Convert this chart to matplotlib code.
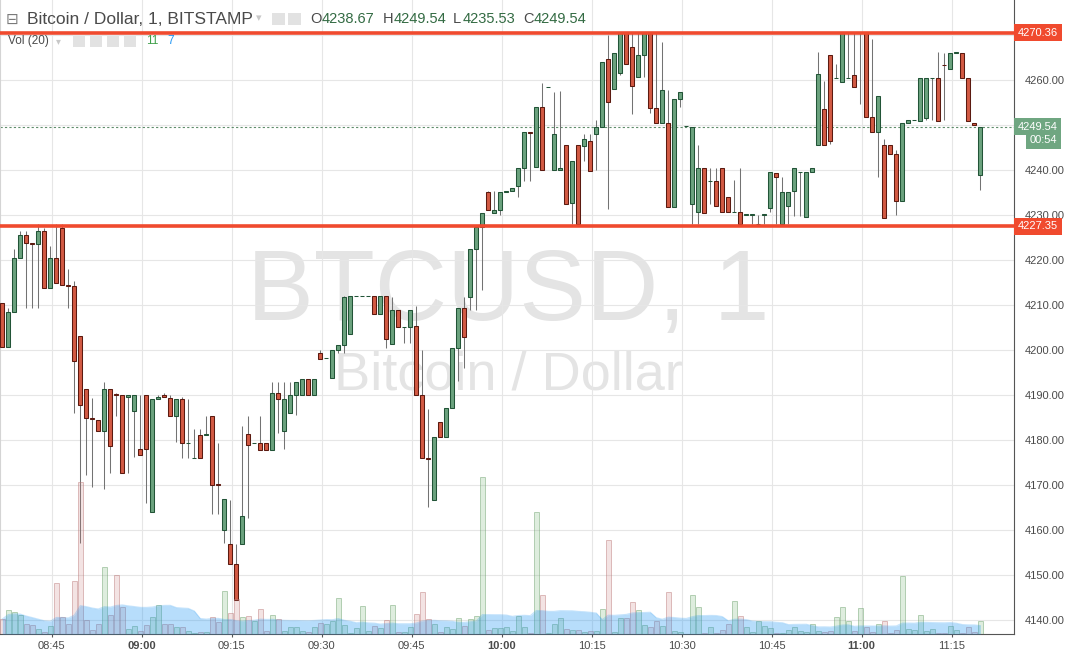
import numpy as np
import pandas as pd
import matplotlib
matplotlib.use("Agg")
import matplotlib.pyplot as plt
from matplotlib.patches import Rectangle
from matplotlib import transforms

# ---- datos (velas de 1 minuto desde las 08:37) ----
opens = [4210.3, 4200.5, 4208.3, 4220.3, 4225.4, 4223.6, 4223.4, 4226.3, 4213.6, 4220.3,
         4226.9, 4214.3, 4214.1, 4202.9, 4191.2, 4184.7, 4184.4, 4182.0, 4191.2, 4190.1,
         4189.8, 4189.5, 4186.3, 4178.0, 4189.8, 4164.0, 4188.9, 4189.8, 4189.2, 4185.2,
         4188.9, 4179.2, 4175.8, 4180.9, 4181.0, 4185.2, 4170.1, 4160.0, 4156.7, 4152.3,
         4156.7, 4181.2, 4179.2, 4179.2, 4179.2, 4177.6, 4190.3, 4182.0, 4186.0, 4189.8,
         4189.8, 4193.5, 4190.0, 4199.2, 4198.1, 4193.6, 4200.0, 4200.9, 4203.5, 4211.8,
         4211.8, 4211.8, 4211.8, 4207.8, 4211.8, 4201.2, 4208.7, 4204.9, 4204.9, 4205.2,
         4189.8, 4175.8, 4166.5, 4184.0, 4180.5, 4186.9, 4200.3, 4209.2, 4211.6, 4222.3,
         4227.2, 4234.9, 4230.3, 4230.9, 4235.1, 4235.2, 4236.3, 4240.3, 4248.3, 4240.5,
         4254.0, 4258.3, 4239.8, 4239.8, 4245.4, 4232.5, 4245.4, 4245.2, 4246.3, 4248.0,
         4249.4, 4264.5, 4257.8, 4261.4, 4270.3, 4267.2, 4260.5, 4265.4, 4270.3, 4253.6,
         4250.3, 4250.3, 4231.6, 4255.6, 4249.6, 4232.3, 4230.5, 4240.3, 4237.4, 4237.4,
         4240.3, 4234.0, 4230.5, 4230.5, 4229.9, 4229.9, 4227.8, 4229.9, 4231.4, 4239.2,
         4227.8, 4232.0, 4235.2, 4239.4, 4229.4, 4239.4, 4245.4, 4253.4, 4265.4, 4260.3,
         4259.4, 4260.3, 4260.9, 4270.3, 4270.3, 4251.6, 4248.3, 4245.4, 4245.4, 4243.4,
         4232.9, 4250.3, 4250.9, 4250.7, 4251.4, 4260.3, 4260.3, 4263.3, 4262.3, 4266.0,
         4266.0, 4260.3, 4250.3, 4238.67]
highs = [4210.3, 4209.2, 4222.3, 4226.3, 4226.3, 4223.6, 4227.8, 4226.9, 4223.0, 4227.8,
         4227.8, 4217.9, 4215.2, 4202.9, 4191.2, 4189.3, 4184.4, 4192.8, 4191.2, 4190.3,
         4189.8, 4189.8, 4189.8, 4189.8, 4189.8, 4188.9, 4189.8, 4190.3, 4189.8, 4188.9,
         4189.5, 4188.9, 4182.3, 4182.3, 4185.2, 4185.2, 4179.2, 4166.7, 4166.5, 4156.7,
         4183.1, 4185.2, 4179.3, 4185.3, 4179.2, 4192.8, 4192.8, 4192.8, 4192.8, 4192.7,
         4193.5, 4193.5, 4193.5, 4200.0, 4198.2, 4200.0, 4200.9, 4211.8, 4211.8, 4211.8,
         4211.8, 4211.8, 4211.8, 4211.8, 4211.8, 4211.7, 4208.7, 4204.9, 4208.7, 4209.6,
         4199.8, 4186.7, 4180.5, 4184.0, 4186.9, 4200.3, 4209.2, 4211.7, 4222.3, 4227.2,
         4230.3, 4235.2, 4235.2, 4234.9, 4235.2, 4236.0, 4240.3, 4248.3, 4248.3, 4254.0,
         4259.2, 4258.4, 4257.2, 4257.4, 4245.4, 4242.0, 4245.4, 4248.0, 4248.0, 4251.0,
         4263.8, 4270.0, 4265.8, 4270.3, 4270.3, 4270.3, 4270.3, 4270.3, 4270.3, 4270.3,
         4268.3, 4257.6, 4255.6, 4257.2, 4249.7, 4249.4, 4245.4, 4240.3, 4240.3, 4240.3,
         4240.3, 4234.0, 4237.6, 4240.3, 4230.0, 4230.0, 4229.9, 4230.0, 4239.4, 4239.2,
         4238.3, 4234.9, 4240.3, 4239.5, 4239.4, 4240.3, 4266.1, 4259.6, 4265.4, 4263.4,
         4270.3, 4270.3, 4270.3, 4270.4, 4270.3, 4268.9, 4256.3, 4246.7, 4245.4, 4244.3,
         4250.3, 4250.9, 4251.0, 4260.3, 4260.3, 4260.4, 4266.1, 4266.0, 4266.0, 4266.1,
         4266.0, 4260.3, 4250.3, 4249.54]
lows = [4200.5, 4200.5, 4208.3, 4220.3, 4209.3, 4209.3, 4209.3, 4213.6, 4213.6, 4214.7,
        4214.3, 4209.3, 4186.0, 4157.0, 4172.2, 4169.5, 4182.0, 4169.1, 4172.6, 4185.3,
        4172.5, 4172.6, 4176.2, 4176.5, 4166.0, 4164.0, 4188.9, 4189.4, 4185.2, 4179.4,
        4176.0, 4176.0, 4175.8, 4175.8, 4181.0, 4163.4, 4163.4, 4156.9, 4152.3, 4144.3,
        4156.7, 4162.5, 4179.2, 4177.6, 4177.6, 4177.6, 4181.4, 4178.0, 4186.0, 4185.4,
        4189.8, 4190.0, 4190.0, 4198.0, 4198.1, 4193.6, 4199.3, 4199.3, 4203.5, 4211.8,
        4211.8, 4211.8, 4207.8, 4207.8, 4200.4, 4201.2, 4204.9, 4201.4, 4201.4, 4190.0,
        4175.8, 4165.1, 4166.5, 4180.5, 4180.5, 4186.9, 4192.9, 4196.0, 4208.7, 4208.7,
        4213.2, 4230.9, 4230.3, 4229.9, 4235.1, 4235.2, 4234.0, 4237.4, 4237.4, 4240.5,
        4239.8, 4258.3, 4239.8, 4239.8, 4232.3, 4228.0, 4227.8, 4242.0, 4239.6, 4239.8,
        4249.4, 4231.2, 4257.8, 4260.9, 4263.4, 4252.3, 4260.5, 4260.5, 4252.5, 4250.3,
        4250.3, 4231.6, 4231.6, 4253.8, 4249.6, 4228.0, 4228.0, 4230.3, 4232.3, 4232.0,
        4230.5, 4230.5, 4230.5, 4227.8, 4229.9, 4227.8, 4227.8, 4227.8, 4230.5, 4227.8,
        4227.8, 4227.8, 4229.6, 4229.6, 4229.4, 4239.4, 4245.4, 4245.4, 4245.6, 4260.3,
        4259.4, 4260.3, 4258.3, 4254.5, 4251.6, 4248.3, 4238.4, 4229.2, 4243.4, 4229.8,
        4232.9, 4250.3, 4250.9, 4250.7, 4250.9, 4250.9, 4250.7, 4250.9, 4262.3, 4266.0,
        4260.3, 4250.7, 4249.8, 4235.53]
closes = [4200.5, 4208.3, 4220.3, 4225.4, 4223.6, 4223.4, 4226.3, 4213.6, 4220.3, 4214.7,
          4214.3, 4214.1, 4197.5, 4187.6, 4184.7, 4184.5, 4182.0, 4191.2, 4178.5, 4189.9,
          4172.5, 4189.8, 4189.8, 4176.5, 4178.0, 4188.9, 4189.4, 4189.4, 4185.2, 4188.9,
          4179.2, 4179.3, 4175.9, 4175.8, 4181.1, 4170.0, 4170.0, 4166.7, 4152.3, 4144.3,
          4162.9, 4178.7, 4179.3, 4177.6, 4177.6, 4190.3, 4188.9, 4188.9, 4189.8, 4192.7,
          4193.5, 4190.0, 4193.5, 4198.0, 4198.2, 4200.0, 4200.9, 4211.7, 4211.8, 4211.8,
          4211.8, 4211.8, 4207.8, 4211.8, 4202.3, 4208.7, 4204.9, 4204.9, 4208.7, 4190.0,
          4175.8, 4175.7, 4180.5, 4180.5, 4186.9, 4200.3, 4209.2, 4202.7, 4222.3, 4227.2,
          4230.3, 4230.9, 4230.9, 4234.9, 4235.1, 4236.0, 4240.3, 4248.3, 4248.2, 4254.0,
          4239.8, 4258.3, 4248.0, 4240.3, 4232.3, 4242.0, 4227.8, 4246.7, 4239.6, 4249.4,
          4263.8, 4254.9, 4265.8, 4270.3, 4263.4, 4258.5, 4265.4, 4270.3, 4253.6, 4250.3,
          4257.6, 4231.6, 4255.6, 4257.2, 4249.6, 4249.4, 4240.3, 4230.3, 4237.5, 4232.0,
          4230.5, 4230.5, 4230.6, 4227.8, 4230.0, 4230.0, 4227.9, 4230.0, 4239.4, 4238.3,
          4234.9, 4234.9, 4240.3, 4239.5, 4239.4, 4240.3, 4261.2, 4245.4, 4246.3, 4260.4,
          4270.3, 4260.4, 4258.3, 4270.4, 4251.6, 4248.3, 4256.3, 4229.2, 4243.4, 4232.9,
          4250.3, 4250.9, 4250.9, 4260.3, 4260.3, 4260.4, 4250.7, 4263.2, 4266.0, 4266.1,
          4260.3, 4250.7, 4249.8, 4249.54]
volumes = [12.4, 19.8, 17.9, 15.7, 8.3, 7.4, 4.1, 1.9, 6.9, 42.1,
           13.8, 8.3, 43.8, 125.6, 11.6, 3.3, 8.3, 55.4, 15.7, 48.8,
           22.1, 4.1, 6.6, 2.2, 7.4, 14.0, 24.0, 8.3, 8.3, 5.5,
           5.5, 2.7, 0.6, 1.9, 1.4, 13.8, 10.2, 35.8, 17.1, 28.9,
           13.8, 14.6, 11.0, 20.9, 2.7, 16.0, 12.4, 2.7, 5.5, 5.5,
           2.7, 1.4, 5.5, 9.3, 8.3, 11.0, 29.5, 7.7, 1.1, 5.0,
           23.1, 2.7, 6.9, 5.0, 11.6, 24.0, 1.4, 1.9, 6.0, 16.5,
           34.7, 12.4, 8.3, 1.4, 6.0, 4.1, 13.2, 6.9, 12.4, 15.1,
           129.8, 3.3, 5.0, 5.0, 6.0, 2.7, 14.6, 5.5, 0.8, 101.1,
           32.2, 0.8, 8.3, 13.2, 4.1, 3.3, 3.3, 1.9, 2.7, 2.7,
           20.7, 77.7, 1.9, 13.2, 13.2, 26.4, 19.8, 7.7, 5.5, 11.0,
           6.6, 34.7, 2.7, 1.9, 0.2, 32.2, 22.6, 0.6, 6.0, 0.6,
           3.3, 8.3, 27.3, 14.9, 6.0, 1.4, 11.0, 6.9, 5.0, 0.6,
           0.6, 3.3, 6.0, 2.7, 1.9, 8.3, 2.7, 1.9, 2.7, 14.3,
           22.6, 11.0, 2.7, 21.7, 5.5, 1.9, 8.3, 11.0, 0.6, 3.3,
           48.2, 4.1, 3.3, 16.0, 2.7, 4.1, 0.6, 0.6, 6.9, 3.3,
           0.6, 5.5, 1.9, 11.0]

tick_pos = [8, 23, 38, 53, 68, 83, 98, 113, 128, 143, 158]
tick_labels = ["08:45", "09:00", "09:15", "09:30", "09:45", "10:00",
               "10:15", "10:30", "10:45", "11:00", "11:15"]
price_ticks = list(range(4140, 4271, 10))
hidden_ticks = [4250, 4270]  # tapadas por las etiquetas de precio
resistance = 4270.36
support = 4227.35
last_price = 4249.54

UP, UP_EDGE = "#6ba27e", "#225437"
DOWN, DOWN_EDGE = "#d25a43", "#5b1a10"
LINE_RED = "#f04a2e"
LABEL_GREEN = "#6fa681"
FONT = "Liberation Sans"
plt.rcParams["font.family"] = [FONT, "DejaVu Sans"]

W, H = 1065, 653
fig = plt.figure(figsize=(W / 100, H / 100), dpi=100)
ax = fig.add_axes([0, 19 / H, 1014 / W, 634 / H])
axv = ax.twinx()  # volumen, encima de las velas

o = np.array(opens)
h = np.array(highs)
l = np.array(lows)
c = np.array(closes)
idx = np.arange(len(o))
up = c >= o

# marca de agua
ax.text(0.501, 1 - 320 / 634, "BTCUSD, 1", transform=ax.transAxes, ha="center",
        va="baseline", fontsize=72, color="#e4e4e4", zorder=0.1)
ax.text(0.501, 1 - 390 / 634, "Bitcoin / Dollar", transform=ax.transAxes, ha="center",
        va="baseline", fontsize=39, color="#e4e4e4", zorder=0.1)

# mechas y cuerpos
ax.vlines(idx, l, h, color="#737373", lw=0.75, zorder=2)
body = np.maximum(np.abs(c - o), 0.12)
bottom = np.minimum(o, c)
ax.bar(idx[up], body[up], bottom=bottom[up], width=0.64, color=UP,
       edgecolor=UP_EDGE, lw=0.75, zorder=3)
ax.bar(idx[~up], body[~up], bottom=bottom[~up], width=0.64, color=DOWN,
       edgecolor=DOWN_EDGE, lw=0.75, zorder=3)

# lineas de soporte / resistencia y precio actual
ax.axhline(resistance, color=LINE_RED, lw=2.6, zorder=4)
ax.axhline(support, color=LINE_RED, lw=2.6, zorder=4)
ax.axhline(last_price, color="#5f8d6b", lw=0.8, ls=(0, (2, 2)), zorder=1.5)

ax.set_xlim(-0.383, 168.62)
ax.set_ylim(4136.78, 4277.67)
ax.set_xticks([t + 0.23 for t in tick_pos])
ax.set_xticklabels(tick_labels)
for lab in ax.get_xticklabels():
    if lab.get_text().endswith(":00"):
        lab.set_fontweight("bold")
ax.yaxis.tick_right()
ax.set_yticks(price_ticks)
ax.set_yticklabels(["" if v in hidden_ticks else f"{v:.2f}" for v in price_ticks])
ax.tick_params(axis="x", length=2.5, pad=2.5, labelsize=8, colors="#555555",
               labelcolor="#4a4a4a")
ax.tick_params(axis="y", which="both", left=False, right=False, labelleft=False,
               labelright=True, pad=4, labelsize=8, labelcolor="#4a4a4a")
ax.grid(color="#e6e6e6", lw=0.8)
ax.set_axisbelow(True)
ax.spines["top"].set_visible(False)
ax.spines["left"].set_color("#d4d4d4")
ax.spines["right"].set_color("#555555")
ax.spines["bottom"].set_color("#555555")

# volumen con media movil (20)
vol = np.array(volumes)
vol_ma = pd.Series(vol).rolling(20, min_periods=1).mean().values
axv.bar(idx[up], vol[up], width=0.8, color=(0.42, 0.68, 0.42, 0.22),
        edgecolor=(0.40, 0.62, 0.40, 0.45), lw=0.7)
axv.bar(idx[~up], vol[~up], width=0.8, color=(0.80, 0.50, 0.50, 0.22),
        edgecolor=(0.72, 0.45, 0.45, 0.45), lw=0.7)
axv.fill_between(idx, 0, vol_ma, color="#2196f3", alpha=0.32, lw=0)
axv.plot(idx, vol_ma, color="#2196f3", alpha=0.25, lw=0.8)
axv.set_ylim(0, 524)
axv.set_yticks([])
axv.tick_params(axis="y", left=False, right=False, labelleft=False, labelright=False)
for s in axv.spines.values():
    s.set_visible(False)

# etiquetas del eje de precios
lbl_x = 1018 / 1014
ytr = transforms.blended_transform_factory(ax.transAxes, ax.transData)
for val, col in [(resistance, LINE_RED), (support, LINE_RED), (last_price, LABEL_GREEN)]:
    ax.text(lbl_x, val, f"{val:.2f}", transform=ytr, ha="left", va="center",
            fontsize=8, color="white", clip_on=False, zorder=10,
            bbox=dict(boxstyle="square,pad=0.32", fc=col, ec="none"))
ax.text(1057 / 1014, last_price, "00:54", ha="right", va="center", fontsize=8,
        color="white", clip_on=False, zorder=10,
        transform=transforms.offset_copy(ytr, fig=fig, y=-13.5, units="dots"),
        bbox=dict(boxstyle="square,pad=0.32", fc=LABEL_GREEN, ec="none"))


# cabecera
def fx(px):
    return px / W


def fy(py):
    return 1 - py / H


fig.text(fx(6), fy(19), "\u229f", fontsize=11, color="#7a7a7a", va="center",
         family="DejaVu Sans")
fig.text(fx(27), fy(19), "Bitcoin / Dollar, 1, BITSTAMP", fontsize=12.5,
         color="#4a4a4a", va="center")
fig.text(fx(256), fy(18), "\u25be", fontsize=8, color="#c8c8c8", va="center",
         family="DejaVu Sans")
for x0 in (272, 288):
    fig.patches.append(Rectangle((fx(x0), fy(25)), 13 / W, 12 / H, fc="#e2e2e2",
                                 ec="none", transform=fig.transFigure))
ohlc = [("O", 310), ("4238.67", 322), ("H", 383), ("4249.54", 394),
        ("L", 453), ("4235.53", 463), ("C", 523), ("4249.54", 534)]
for txt, xp in ohlc:
    col = "#4a4a4a" if txt.isalpha() else "#336b43"
    fig.text(fx(xp), fy(19), txt, fontsize=10.5, color=col, va="center")

fig.text(fx(8), fy(41), "Vol (20)", fontsize=8.5, color="#4a4a4a", va="center")
fig.text(fx(56), fy(41), "\u25be", fontsize=7, color="#c8c8c8", va="center",
         family="DejaVu Sans")
for x0 in (73, 90, 107, 124):
    fig.patches.append(Rectangle((fx(x0), fy(47)), 12 / W, 11 / H, fc="#e2e2e2",
                                 ec="none", transform=fig.transFigure))
fig.text(fx(146), fy(41), "11", fontsize=8.5, color="#3fa04a", va="center")
fig.text(fx(167), fy(41), "7", fontsize=8.5, color="#2196f3", va="center")

fig.savefig("out.png", dpi=100)
